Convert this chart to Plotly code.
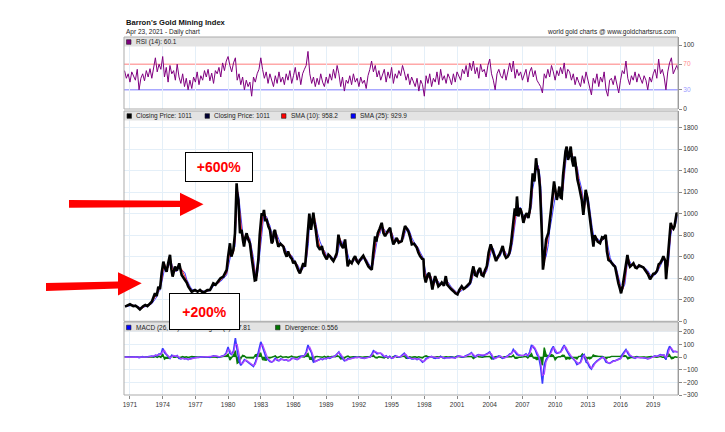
import plotly.graph_objects as go
import pandas as pd
from datetime import datetime

# ---------------- DATA ----------------
price_years = [
    1970.54, 1970.8, 1971.0, 1971.3, 1971.5, 1971.7, 1971.91, 1972.2, 1972.4, 1972.6, 1972.83,
    1973.0, 1973.29, 1973.45, 1973.6, 1973.75, 1973.9, 1974.06, 1974.2, 1974.36, 1974.5, 1974.67,
    1974.8, 1974.91, 1975.13, 1975.3, 1975.52, 1975.74, 1976.04, 1976.2, 1976.35, 1976.5, 1976.66,
    1976.96, 1977.2, 1977.42, 1977.65, 1977.88, 1978.1, 1978.34, 1978.5, 1978.64, 1978.85, 1979.1,
    1979.3, 1979.56, 1979.87, 1980.0, 1980.17, 1980.3, 1980.48, 1980.63, 1980.7, 1980.78, 1980.85,
    1980.94, 1981.09, 1981.24, 1981.35, 1981.46, 1981.58, 1981.7, 1981.85, 1982.0, 1982.15, 1982.31,
    1982.45, 1982.56, 1982.68, 1982.77, 1982.9, 1983.08, 1983.2, 1983.29, 1983.4, 1983.54, 1983.7,
    1983.84, 1984.0, 1984.09, 1984.2, 1984.3, 1984.45, 1984.61, 1984.8, 1985.07, 1985.2, 1985.37,
    1985.5, 1985.68, 1985.85, 1985.98, 1986.1, 1986.29, 1986.45, 1986.59, 1986.75, 1986.9, 1987.06,
    1987.2, 1987.37, 1987.45, 1987.61, 1987.82, 1987.95, 1988.04, 1988.22, 1988.44, 1988.6, 1988.74,
    1988.9, 1989.05, 1989.2, 1989.35, 1989.5, 1989.66, 1989.8, 1989.97, 1990.12, 1990.25, 1990.42,
    1990.55, 1990.73, 1990.85, 1990.97, 1991.15, 1991.34, 1991.5, 1991.65, 1991.8, 1991.95, 1992.1,
    1992.26, 1992.4, 1992.56, 1992.7, 1992.87, 1993.05, 1993.18, 1993.3, 1993.48, 1993.6, 1993.73,
    1993.9, 1994.09, 1994.25, 1994.4, 1994.6, 1994.86, 1995.0, 1995.16, 1995.3, 1995.47, 1995.65,
    1995.93, 1996.1, 1996.23, 1996.4, 1996.54, 1996.7, 1996.85, 1997.05, 1997.3, 1997.45, 1997.61,
    1997.8, 1997.92, 1998.0, 1998.13, 1998.3, 1998.44, 1998.6, 1998.74, 1998.85, 1998.99, 1999.15,
    1999.29, 1999.45, 1999.6, 1999.8, 1999.97, 2000.1, 2000.21, 2000.45, 2000.67, 2000.85, 2001.04,
    2001.2, 2001.43, 2001.6, 2001.74, 2002.0, 2002.2, 2002.4, 2002.5, 2002.65, 2002.81, 2002.95,
    2003.11, 2003.25, 2003.42, 2003.55, 2003.73, 2003.9, 2004.09, 2004.2, 2004.34, 2004.45, 2004.58,
    2004.75, 2004.89, 2005.05, 2005.19, 2005.35, 2005.5, 2005.65, 2005.8, 2005.95, 2006.1, 2006.3,
    2006.4, 2006.5, 2006.63, 2006.8, 2006.93, 2007.09, 2007.25, 2007.4, 2007.55, 2007.7, 2007.85,
    2007.94, 2008.1, 2008.25, 2008.35, 2008.46, 2008.6, 2008.7, 2008.78, 2008.83, 2008.88, 2008.98,
    2009.17, 2009.38, 2009.5, 2009.69, 2009.9, 2010.05, 2010.15, 2010.3, 2010.39, 2010.5, 2010.6,
    2010.72, 2010.82, 2010.95, 2011.06, 2011.18, 2011.28, 2011.43, 2011.55, 2011.68, 2011.8, 2011.92,
    2012.05, 2012.2, 2012.44, 2012.59, 2012.7, 2012.8, 2012.95, 2013.05, 2013.2, 2013.27, 2013.4,
    2013.51, 2013.62, 2013.75, 2013.9, 2014.12, 2014.3, 2014.43, 2014.55, 2014.64, 2014.75, 2014.89,
    2015.05, 2015.19, 2015.35, 2015.5, 2015.65, 2015.8, 2015.95, 2016.05, 2016.2, 2016.4, 2016.55,
    2016.63, 2016.75, 2016.87, 2017.0, 2017.18, 2017.35, 2017.49, 2017.7, 2017.94, 2018.1, 2018.25,
    2018.5, 2018.71, 2018.85, 2019.0, 2019.17, 2019.35, 2019.5, 2019.63, 2019.8, 2019.93, 2020.1,
    2020.18, 2020.28, 2020.4, 2020.48, 2020.6, 2020.7, 2020.85, 2020.94, 2021.05, 2021.15, 2021.25,
    2021.31,
]
price_values = [
    136, 150, 158, 140, 145, 130, 111, 140, 152, 140, 165,
    182, 260, 235, 322, 300, 446, 554, 500, 461, 540, 617,
    480, 415, 508, 470, 539, 430, 384, 360, 322, 300, 275,
    291, 275, 291, 270, 275, 290, 291, 330, 353, 340, 368,
    400, 415, 477, 600, 725, 600, 663, 818, 1100, 1283, 1180,
    1128, 818, 849, 760, 694, 780, 818, 760, 725, 600, 477,
    380, 384, 500, 570, 800, 1004, 980, 1035, 940, 942, 880,
    849, 725, 740, 830, 849, 760, 694, 720, 694, 640, 601,
    650, 601, 580, 539, 560, 508, 470, 446, 500, 539, 508,
    694, 958, 1000, 850, 1010, 900, 850, 700, 665, 700, 635,
    600, 575, 620, 605, 580, 560, 590, 635, 805, 740, 700,
    680, 760, 620, 510, 560, 540, 580, 605, 560, 540, 570,
    590, 610, 575, 540, 510, 490, 480, 620, 790, 740, 820,
    860, 915, 820, 790, 830, 870, 780, 715, 740, 775, 730,
    745, 830, 885, 860, 835, 780, 715, 720, 685, 640, 605,
    580, 575, 420, 360, 430, 450, 380, 295, 360, 420, 370,
    325, 340, 360, 330, 420, 340, 325, 300, 280, 260, 250,
    290, 325, 300, 310, 340, 360, 470, 510, 430, 420, 470,
    495, 430, 420, 470, 510, 640, 715, 680, 635, 580, 560,
    600, 620, 660, 700, 620, 590, 600, 635, 720, 850, 1050,
    980, 1160, 975, 1050, 1005, 915, 980, 1005, 960, 1050, 1250,
    1375, 1300, 1515, 1420, 1405, 1250, 1050, 820, 650, 480, 560,
    760, 820, 950, 1097, 1300, 1160, 1128, 1200, 1252, 1150, 1144,
    1350, 1469, 1580, 1624, 1500, 1531, 1624, 1500, 1438, 1531, 1420,
    1314, 1250, 1128, 989, 1100, 1221, 1150, 1066, 950, 911, 760,
    694, 800, 772, 740, 725, 780, 772, 790, 803, 650, 570,
    560, 539, 520, 508, 420, 353, 300, 260, 330, 446, 560,
    617, 540, 508, 520, 539, 500, 493, 520, 508, 500, 477,
    440, 390, 420, 440, 446, 470, 530, 539, 570, 605, 560,
    391, 520, 700, 750, 915, 880, 860, 880, 960, 1010, 980,
    1011,
]

# RSI(14), bi-monthly readings from Jul 1970, last value = Apr 23 2021
rsi_values = [
    60, 48, 55,
    42, 58, 50, 45, 62, 30,
    48, 55, 44, 60, 50, 63,
    48, 66, 80, 58, 70, 62,
    82, 50, 65, 42, 68, 55,
    60, 45, 70, 50, 40, 55,
    35, 48, 30, 45, 32, 50,
    42, 58, 38, 52, 45, 60,
    50, 62, 44, 56, 40, 60,
    55, 65, 50, 72, 60, 75,
    82, 68, 58, 72, 80, 45,
    55, 38, 50, 30, 45, 35,
    42, 20, 50, 42, 55, 62,
    80, 62, 48, 58, 40, 55,
    45, 35, 52, 40, 58, 42,
    50, 38, 55, 45, 60, 40,
    52, 65, 45, 58, 38, 55,
    62, 68, 90, 55, 40, 50,
    35, 48, 38, 55, 42, 35,
    50, 40, 55, 45, 62, 48,
    68, 55, 35, 50, 28, 45,
    40, 52, 38, 55, 42, 48,
    35, 50, 40, 45, 32, 52,
    62, 75, 58, 68, 50, 60,
    45, 55, 62, 42, 58, 48,
    65, 40, 55, 48, 60, 52,
    68, 58, 45, 55, 38, 50,
    42, 35, 48, 28, 45, 38,
    20, 52, 40, 55, 35, 48,
    42, 58, 38, 62, 45, 52,
    40, 55, 48, 38, 55, 42,
    58, 50, 45, 62, 55, 68,
    50, 72, 60, 75, 55, 65,
    48, 70, 58, 62, 50, 68,
    78, 55, 45, 30, 55, 62,
    52, 48, 62, 45, 60, 72,
    58, 75, 48, 62, 52, 58,
    45, 55, 62, 42, 58, 65,
    50, 60, 45, 40, 35, 25,
    55, 48, 62, 50, 68, 58,
    45, 60, 52, 65, 55, 72,
    48, 62, 58, 45, 55, 38,
    50, 42, 35, 52, 40, 58,
    45, 30, 22, 48, 40, 55,
    35, 50, 42, 58, 30, 20,
    45, 48, 38, 52, 35, 25,
    45, 60, 55, 75, 48, 38,
    52, 45, 58, 42, 55, 48,
    40, 52, 45, 30, 50, 42,
    55, 62, 48, 78, 55, 62,
    50, 30, 58, 72, 80, 55,
    62, 68, 60.1,
]

# MACD (26, 12, 9), same bi-monthly dates
macd_values = [
    0, 2, -2,
    0, -3, 2, -2, 1, -4,
    0, 3, -2, 2, 0, 5,
    8, 4, 15, 10, 25, 20,
    70, 35, 20, 0, -10, 15,
    10, 5, 12, -10, -15, -8,
    -15, -12, -20, -18, -10, -5,
    -5, 0, -3, 2, 0, -2,
    0, 2, -2, 5, 10, 8,
    2, 0, 5, 10, 15, 35,
    79, 30, 20, 50, 150, 50,
    -30, -66, -40, -20, -30, -40,
    -50, -60, -75, -40, 0, 60,
    120, 80, 40, -10, -20, -35,
    -40, -30, -10, -25, -30, -15,
    -20, -25, -20, -30, -25, -10,
    -10, -15, -20, -10, 5, 10,
    10, 40, 95, 60, 30, -40,
    -35, -25, -20, -15, -20, -10,
    -15, -5, -10, 0, 5, 10,
    30, 40, 10, -10, -30, -25,
    -10, -15, -10, -5, 0, -5,
    0, -5, -10, -10, -5, 0,
    0, 20, 50, 40, 25, 30,
    30, 15, 0, 10, -5, 5,
    -10, -5, 10, 5, 0, 5,
    15, 30, 10, -10, -5, -15,
    -15, -10, -20, -15, -25, -40,
    -30, -10, -5, 0, 5, -5,
    -10, -5, -8, 5, -5, -10,
    -5, -8, -5, 0, -5, -8,
    5, 10, 5, 0, 5, 10,
    15, 25, 35, 10, 0, 15,
    20, 15, 10, 15, 20, 30,
    40, 10, -15, -10, 0, 10,
    5, -10, -5, 0, 10, 25,
    30, 60, 40, 20, 15, 10,
    10, 15, 25, 10, 40, 95,
    80, 60, 20, 0, -80, -210,
    -60, -20, 0, 20, 60, 85,
    40, 30, 35, 40, 70, 95,
    60, 40, 10, 0, -20, -30,
    -60, -50, -40, 10, 20, -40,
    -50, -80, -95, -60, -40, -30,
    -20, -10, 0, -10, -40, -45,
    -50, -40, -30, -30, -25, -20,
    -10, 20, 40, 60, 30, 10,
    5, -5, -10, 0, -5, -5,
    -5, -5, -10, -15, -10, 0,
    5, 10, 5, 10, 20, 15,
    15, -20, 50, 85, 60, 40,
    45, 40, 37.81,
]

year_ticks = list(range(1971, 2020, 3))
main_ticks = [0, 200, 400, 600, 800, 1000, 1200, 1400, 1600, 1800]
macd_ticks = [-300, -200, -100, 0, 100, 200]
rsi_ticks = [0, 30, 70, 100]

# ---------------- HELPERS ----------------
W, H = 725, 432
L, R, T, B = 124, 47, 37, 37
PW, PH = W - L - R, H - T - B


def px_x(x):
    return (x - L) / PW


def px_y(y):
    return (H - B - y) / PH


def yr2date(y):
    yi = int(y)
    a, b = datetime(yi, 1, 1), datetime(yi + 1, 1, 1)
    return a + (b - a) * (y - yi)


p_dates = [yr2date(y) for y in price_years]
price = pd.Series(price_values, dtype=float)
sma10 = price.rolling(2, min_periods=1).mean()
sma25 = price.rolling(3, min_periods=1).mean()


def ind_dates(n):
    d = list(pd.date_range("1970-07-01", periods=n - 1, freq="2MS"))
    return d + [datetime(2021, 4, 23)]


rsi_dates = ind_dates(len(rsi_values))
macd_dates = ind_dates(len(macd_values))
macd = pd.Series(macd_values, dtype=float)
signal = macd.rolling(2, min_periods=1).mean()
diverg = macd - signal

FONT = "Liberation Sans, Arial, sans-serif"
GRID = "#e4eff8"

fig = go.Figure()

# RSI panel (x3 / y3)
fig.add_trace(go.Scatter(x=rsi_dates, y=rsi_values, mode="lines",
                         line=dict(color="#800080", width=1), xaxis="x3", yaxis="y3"))
# main panel (x2 / y2)
fig.add_trace(go.Scatter(x=p_dates, y=sma25, mode="lines",
                         line=dict(color="#4040ff", width=1), xaxis="x2", yaxis="y2"))
fig.add_trace(go.Scatter(x=p_dates, y=sma10, mode="lines",
                         line=dict(color="#ff2020", width=1), xaxis="x2", yaxis="y2"))
fig.add_trace(go.Scatter(x=p_dates, y=price_values, mode="lines",
                         line=dict(color="#000000", width=2.6), xaxis="x2", yaxis="y2"))
# MACD panel (x / y)
fig.add_trace(go.Scatter(x=macd_dates, y=diverg, mode="lines", fill="tozeroy",
                         fillcolor="#0a7a0a", line=dict(color="#0a7a0a", width=1.4),
                         xaxis="x", yaxis="y"))
fig.add_trace(go.Scatter(x=macd_dates, y=macd_values, mode="lines",
                         line=dict(color="#3a3aff", width=1.6), xaxis="x", yaxis="y"))
fig.add_trace(go.Scatter(x=macd_dates, y=signal, mode="lines",
                         line=dict(color="#b048ff", width=1.2), xaxis="x", yaxis="y"))

xrange_ = [yr2date(1970.45), yr2date(2021.27)]
tickdates = [yr2date(y) for y in year_ticks]

xcommon = dict(type="date", range=xrange_, showgrid=True, gridcolor=GRID, gridwidth=1,
               tickvals=tickdates, zeroline=False, showline=False)
ycommon = dict(side="right", showline=True, linecolor="#8a8a8a", linewidth=1,
               ticks="outside", ticklen=3, tickcolor="#8a8a8a", zeroline=False,
               tickfont=dict(family=FONT, size=6.5, color="#333333"), gridcolor=GRID)

fig.update_layout(
    width=W, height=H,
    margin=dict(l=L, r=R, t=T, b=B, pad=0, autoexpand=False),
    paper_bgcolor="white", plot_bgcolor="white",
    showlegend=False, hovermode=False,
    xaxis=dict(**xcommon, anchor="y", ticktext=[str(y) for y in year_ticks],
               ticks="outside", ticklen=3, tickcolor="#8a8a8a",
               tickfont=dict(family=FONT, size=6.5, color="#333333")),
    xaxis2=dict(**xcommon, anchor="y2", matches="x", showticklabels=False, ticks=""),
    xaxis3=dict(**xcommon, anchor="y3", matches="x", showticklabels=False, ticks=""),
    yaxis=dict(**ycommon, domain=[0, px_y(322)], range=[-300, 277], tickvals=macd_ticks,
               showgrid=True, anchor="x"),
    yaxis2=dict(**ycommon, domain=[px_y(321.3), px_y(111)], range=[0, 1954],
                tickvals=main_ticks, showgrid=True, anchor="x2"),
    yaxis3=dict(**ycommon, domain=[px_y(109), 1.0], range=[0, 112.5], tickvals=rsi_ticks,
                ticktext=["0", '<span style="color:#9a9aff">30</span>',
                          '<span style="color:#ff8a8a">70</span>', "100"],
                showgrid=False, anchor="x3"),
)

shapes = []
# RSI 70 / 30 lines, MACD zero line
shapes.append(dict(type="line", xref="x3 domain", yref="y3", x0=0, x1=1, y0=70, y1=70,
                   line=dict(color="#ffa8a8", width=1.5), layer="below"))
shapes.append(dict(type="line", xref="x3 domain", yref="y3", x0=0, x1=1, y0=30, y1=30,
                   line=dict(color="#a8a8ff", width=1.5), layer="below"))
shapes.append(dict(type="line", xref="x domain", yref="y", x0=0, x1=1, y0=0, y1=0,
                   line=dict(color="#8ed88e", width=1.5), layer="below"))

# header bands
for top in (37, 111, 322):
    shapes.append(dict(type="rect", xref="paper", yref="paper", x0=0, x1=1,
                       y0=px_y(top + 9.5), y1=px_y(top), fillcolor="#e3e3e3",
                       line=dict(width=0), layer="above"))
# panel frames
for top, bot in ((37, 109), (111, 321.3), (322, 395)):
    shapes.append(dict(type="rect", xref="paper", yref="paper", x0=0, x1=1,
                       y0=px_y(bot), y1=px_y(top), line=dict(color="#ababab", width=1),
                       fillcolor="rgba(0,0,0,0)", layer="above"))

annotations = []


def legend_item(x_sq, y_c, color, text):
    shapes.append(dict(type="rect", xref="paper", yref="paper",
                       x0=px_x(x_sq), x1=px_x(x_sq + 4.5),
                       y0=px_y(y_c + 2.3), y1=px_y(y_c - 2.3),
                       fillcolor=color, line=dict(color="#222222", width=0.6), layer="above"))
    annotations.append(dict(xref="paper", yref="paper", x=px_x(x_sq + 7), y=px_y(y_c),
                            xanchor="left", yanchor="middle", showarrow=False, text=text,
                            font=dict(family=FONT, size=6.5, color="#222222")))


legend_item(126.5, 42, "#800080", "RSI (14): 60.1")
legend_item(127, 116, "#000000", "Closing Price: 1011")
legend_item(205, 116, "#000033", "Closing Price: 1011")
legend_item(281.5, 116, "#ff0000", "SMA (10): 958.2")
legend_item(351, 116, "#0000ff", "SMA (25): 929.9")
legend_item(126.5, 327.5, "#0000ff", "MACD (26, 12): 38.37  Signal (9): 37.81")
legend_item(275.5, 327.5, "#007700", "Divergence: 0.556")

# titles
annotations.append(dict(xref="paper", yref="paper", x=px_x(124), y=px_y(22.5), xanchor="left",
                        yanchor="middle", showarrow=False, text="<b>Barron's Gold Mining Index</b>",
                        font=dict(family=FONT, size=7.6, color="#111111")))
annotations.append(dict(xref="paper", yref="paper", x=px_x(124), y=px_y(32), xanchor="left",
                        yanchor="middle", showarrow=False, text="Apr 23, 2021 - Daily chart",
                        font=dict(family=FONT, size=6.5, color="#222222")))
annotations.append(dict(xref="paper", yref="paper", x=1.0, y=px_y(32), xanchor="right",
                        yanchor="middle", showarrow=False,
                        text="world gold charts @ www.goldchartsrus.com",
                        font=dict(family=FONT, size=6.5, color="#222222")))


# red arrows
def poly(pts):
    s = "M " + " L ".join(f"{px_x(x):.5f},{px_y(y):.5f}" for x, y in pts) + " Z"
    return s


shapes.append(dict(type="path", xref="paper", yref="paper", layer="above",
                   path=poly([(69, 200), (180, 200.8), (180, 192.7), (203.5, 204.3),
                              (180, 216), (180, 207), (69, 207.7)]),
                   fillcolor="#ff0000", line=dict(width=0)))
shapes.append(dict(type="path", xref="paper", yref="paper", layer="above",
                   path=poly([(46, 283), (118, 281.5), (118, 272.3), (141.7, 283.3),
                              (118, 295.5), (118, 288.5), (46, 291)]),
                   fillcolor="#ff0000", line=dict(width=0)))


# callout boxes (annotations drawn last so they sit on top of the header texts)
def callout(x0, y0, x1, y1, text):
    annotations.append(dict(xref="paper", yref="paper", x=px_x((x0 + x1) / 2),
                            y=px_y((y0 + y1) / 2), xanchor="center", yanchor="middle",
                            showarrow=False, text=f"<b>{text}</b>",
                            width=x1 - x0 - 2, height=y1 - y0 - 2, borderpad=0,
                            align="center", valign="middle",
                            bgcolor="white", bordercolor="#000000", borderwidth=1,
                            font=dict(family=FONT, size=14, color="#ff0000")))


callout(185, 152, 253, 182, "+600%")
callout(169, 293, 240, 330, "+200%")

fig.update_layout(shapes=shapes, annotations=annotations)
fig.write_html("out.html")
